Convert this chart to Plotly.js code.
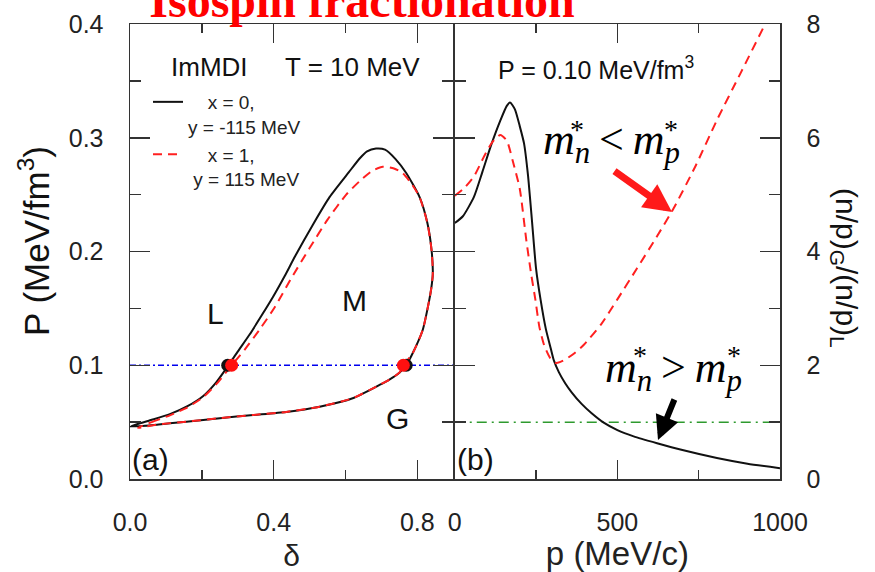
<!DOCTYPE html>
<html><head><meta charset="utf-8">
<script src="https://cdn.plot.ly/plotly-3.0.1.min.js"></script>
<style>html,body{margin:0;padding:0;background:#fff}#chart{width:875px;height:572px}</style>
</head><body><div id="chart"></div>
<script>
// ---------- Panel (a): binodal loops, P vs delta ----------
const deltaX0 = [0.0, 0.05, 0.111, 0.16, 0.204, 0.24, 0.272, 0.30, 0.333, 0.365, 0.398, 0.43, 0.46, 0.51, 0.556, 0.61, 0.64, 0.66, 0.685, 0.71, 0.74, 0.769, 0.806, 0.828, 0.84, 0.843, 0.839, 0.833, 0.815, 0.787, 0.769, 0.75, 0.72, 0.694, 0.62, 0.528, 0.435, 0.343, 0.25, 0.157, 0.08, 0.0];
const pressureX0 = [0.046, 0.051, 0.057, 0.064, 0.073, 0.085, 0.099, 0.112, 0.127, 0.143, 0.160, 0.178, 0.196, 0.224, 0.248, 0.270, 0.282, 0.288, 0.2905, 0.2895, 0.281, 0.269, 0.248, 0.225, 0.200, 0.180, 0.168, 0.157, 0.131, 0.1105, 0.100, 0.0935, 0.087, 0.0826, 0.071, 0.0636, 0.059, 0.0563, 0.0535, 0.0504, 0.048, 0.046];
const deltaX1 = [0.022, 0.06, 0.111, 0.16, 0.204, 0.245, 0.283, 0.32, 0.36, 0.403, 0.45, 0.50, 0.55, 0.602, 0.64, 0.675, 0.704, 0.735, 0.759, 0.785, 0.806, 0.828, 0.84, 0.843, 0.839, 0.833, 0.815, 0.787, 0.761, 0.75, 0.72, 0.694, 0.62, 0.528, 0.435, 0.343, 0.25, 0.157, 0.08, 0.022];
const pressureX1 = [0.045, 0.050, 0.056, 0.063, 0.072, 0.085, 0.100, 0.114, 0.131, 0.151, 0.177, 0.203, 0.228, 0.250, 0.262, 0.271, 0.2745, 0.273, 0.269, 0.259, 0.248, 0.225, 0.200, 0.180, 0.168, 0.157, 0.131, 0.1105, 0.100, 0.0935, 0.087, 0.0826, 0.071, 0.0636, 0.059, 0.0563, 0.0535, 0.0504, 0.048, 0.045];
const coexDeltaX0 = [0.272, 0.769];
const coexDeltaX1 = [0.283, 0.761];
const coexPressure = [0.1, 0.1];
const cutDelta = [0, 0.9];
const cutPressure = [0.1, 0.1];

// ---------- Panel (b): (n/p)_G/(n/p)_L vs momentum ----------
const momentumX0 = [0, 25, 59, 85, 110, 140, 160, 170, 185, 200, 213, 225, 238, 250, 264, 280, 295, 305, 320, 340, 360, 390, 420, 458, 500, 550, 622, 700, 806, 900, 1000];
const ratioX0 = [4.5, 4.62, 4.96, 5.4, 5.84, 6.3, 6.56, 6.62, 6.5, 6.2, 5.9, 5.35, 4.5, 3.7, 3.15, 2.64, 2.3, 2.08, 1.88, 1.68, 1.52, 1.32, 1.16, 0.99, 0.86, 0.75, 0.63, 0.51, 0.37, 0.27, 0.19];
const momentumX1 = [0, 30, 59, 90, 115, 140, 160, 178, 200, 220, 235, 248, 260, 275, 294, 310, 325, 345, 370, 397, 450, 499, 560, 620, 673, 740, 806, 880, 950, 960];
const ratioX1 = [4.98, 5.12, 5.32, 5.67, 5.92, 6.05, 5.95, 5.6, 5.1, 4.2, 3.6, 3.15, 2.68, 2.35, 2.12, 2.04, 2.06, 2.12, 2.22, 2.36, 2.72, 3.15, 3.7, 4.25, 4.76, 5.5, 6.31, 7.15, 7.95, 8.07];
const unityMomentum = [0, 1000];
const unityRatio = [1, 1];

// ---------- labels ----------
const legendLabelX0 = '&nbsp;&nbsp;&nbsp;&#8201;x = 0,<br>y = -115 MeV';
const legendLabelX1 = '&nbsp;&nbsp;&nbsp;&#8201;x = 1,<br>&nbsp;y = 115 MeV';

// layout helpers (pixel -> paper)
const L = 130, R = 780, T = 24, B = 479;
const px = v => (v - L) / (R - L);
const py = v => (B - v) / (B - T);

const SANS = 'Liberation Sans, Arial, sans-serif';
const SERIF = 'Liberation Serif, Times New Roman, serif';
const FRAME = '#333';

const traces = [
  {x: cutDelta, y: cutPressure, xaxis: 'x', yaxis: 'y', mode: 'lines', showlegend: false,
   line: {color: '#0000ee', width: 1.5, dash: '6px,3px,2px,3px'}, hoverinfo: 'skip'},
  {x: deltaX0, y: pressureX0, xaxis: 'x', yaxis: 'y', mode: 'lines', name: legendLabelX0,
   line: {color: '#111', width: 2, shape: 'spline', smoothing: 0.6}},
  {x: deltaX1, y: pressureX1, xaxis: 'x', yaxis: 'y', mode: 'lines', name: legendLabelX1,
   line: {color: '#ff2020', width: 2, dash: '9px,6px', shape: 'spline', smoothing: 0.6}},
  {x: coexDeltaX0, y: coexPressure, xaxis: 'x', yaxis: 'y', mode: 'markers', showlegend: false,
   marker: {color: '#111', size: 13}},
  {x: coexDeltaX1, y: coexPressure, xaxis: 'x', yaxis: 'y', mode: 'markers', showlegend: false,
   marker: {color: '#ff1010', size: 13}},
  {x: unityMomentum, y: unityRatio, xaxis: 'x2', yaxis: 'y2', mode: 'lines', showlegend: false,
   line: {color: '#2e9a2e', width: 1.5, dash: '10px,5px,2px,5px'}, hoverinfo: 'skip'},
  {x: momentumX0, y: ratioX0, xaxis: 'x2', yaxis: 'y2', mode: 'lines', showlegend: false,
   line: {color: '#111', width: 2, shape: 'spline', smoothing: 0.6}},
  {x: momentumX1, y: ratioX1, xaxis: 'x2', yaxis: 'y2', mode: 'lines', showlegend: false,
   line: {color: '#ff2020', width: 2, dash: '9px,6px', shape: 'spline', smoothing: 0.6}}
];

const tickFont = {family: SANS, size: 25, color: '#222'};
const common = {
  showline: true, linecolor: FRAME, linewidth: 1.5, mirror: 'ticks',
  ticks: 'inside', ticklen: 19, tickwidth: 1.5, tickcolor: FRAME,
  showgrid: false, zeroline: false, tickfont: tickFont, fixedrange: true
};
const minorTicks = len => ({ticks: 'inside', ticklen: len, tickwidth: 1.5, tickcolor: FRAME, showgrid: false});

const layout = {
  width: 875, height: 572,
  paper_bgcolor: '#fff', plot_bgcolor: '#fff',
  margin: {l: L, r: 875 - R, t: T, b: 572 - B, pad: 0},
  font: {family: SANS, color: '#222'},
  title: {text: 'Isospin fractionation', x: 362 / 875, xanchor: 'center', y: 1, yanchor: 'middle',
          font: {family: SERIF, size: 48, color: '#ff0000', weight: 'bold'}},
  showlegend: true,
  legend: {x: px(148), y: py(83), xanchor: 'left', yanchor: 'top', bgcolor: 'rgba(0,0,0,0)',
           font: {family: SANS, size: 19, color: '#222'}, valign: 'top', tracegroupgap: 0},
  xaxis: Object.assign({}, common, {
    domain: [0, 323.25 / 650], range: [0, 0.9], tick0: 0, dtick: 0.4, tickformat: '.1f',
    minor: Object.assign(minorTicks(9), {dtick: 0.2, tick0: 0}), anchor: 'y',
    ticklabelstandoff: 20,
    title: {text: 'δ', font: {family: SANS, size: 30, color: '#222'}, standoff: 10}
  }),
  yaxis: Object.assign({}, common, {
    domain: [0, 1], range: [0, 0.4], tick0: 0, dtick: 0.1, tickformat: '.1f',
    minor: Object.assign(minorTicks(11), {dtick: 0.05, tick0: 0}), anchor: 'x', ticklen: 20,
    ticklabelstandoff: 20
  }),
  xaxis2: Object.assign({}, common, {
    domain: [324.75 / 650, 1], range: [0, 1000], tick0: 0, dtick: 500,
    minor: Object.assign(minorTicks(9), {dtick: 250, tick0: 0}), anchor: 'y2',
    ticklabelstandoff: 20,
    title: {text: 'p (MeV/c)', font: {family: SANS, size: 33, color: '#222'}, standoff: 4}
  }),
  yaxis2: Object.assign({}, common, {
    domain: [0, 1], range: [0, 8], tick0: 0, dtick: 2, side: 'right',
    minor: Object.assign(minorTicks(11), {dtick: 1, tick0: 0}), anchor: 'x2', ticklen: 20,
    ticklabelstandoff: 20
  }),
  annotations: []
};

function ann(text, x, y, size, extra) {
  return Object.assign({text: text, x: px(x), y: py(y), xref: 'paper', yref: 'paper',
    xanchor: 'center', yanchor: 'middle', showarrow: false,
    font: {family: SANS, size: size, color: '#111'}}, extra || {});
}
const A = layout.annotations;
A.push(ann('P (MeV/fm<sup>3</sup>)', 34, 241, 35, {textangle: -90}));
A.push(ann('(n/p)<sub>G</sub>/(n/p)<sub>L</sub>', 845, 268, 30, {textangle: 90}));
A.push(ann('ImMDI', 209, 67, 26));
A.push(ann('T = 10 MeV', 352, 67, 26));
A.push(ann('L', 215, 313, 30));
A.push(ann('M', 354, 300, 30));
A.push(ann('G', 397, 418, 30));
A.push(ann('(a)', 150, 459, 30));
A.push(ann('(b)', 475, 459, 30));
A.push(ann('P = 0.10 MeV/fm<sup>3</sup>', 596, 68, 25));
// effective-mass relations
const mathFont = {family: SERIF, size: 44, color: '#000'};
const starFont = {family: SERIF, size: 28, color: '#000'};
A.push(ann('<i>m</i><sub><i>n</i></sub>&#8201;&lt;&#8201;<i>m</i><sub><i>p</i></sub>', 541, 142, 44, {xanchor: 'left', font: mathFont}));
A.push(ann('*', 577, 129, 28, {font: starFont}));
A.push(ann('*', 671, 129, 28, {font: starFont}));
A.push(ann('<i>m</i><sub><i>n</i></sub>&#8201;&gt;&#8201;<i>m</i><sub><i>p</i></sub>', 603, 370, 44, {xanchor: 'left', font: mathFont}));
A.push(ann('*', 640, 355, 28, {font: starFont}));
A.push(ann('*', 734, 355, 28, {font: starFont}));
// arrows
A.push({text: '', x: px(672), y: py(212), xref: 'paper', yref: 'paper', showarrow: true,
  ax: -59, ay: -42, arrowhead: 2, arrowsize: 0.8, arrowwidth: 7, arrowcolor: '#ff1a1a', standoff: 0});
A.push({text: '', x: px(658), y: py(440), xref: 'paper', yref: 'paper', showarrow: true,
  ax: 17, ay: -42, arrowhead: 2, arrowsize: 0.8, arrowwidth: 6, arrowcolor: '#000', standoff: 0});

Plotly.newPlot('chart', traces, layout, {displayModeBar: false, staticPlot: true});
</script>
</body></html>
